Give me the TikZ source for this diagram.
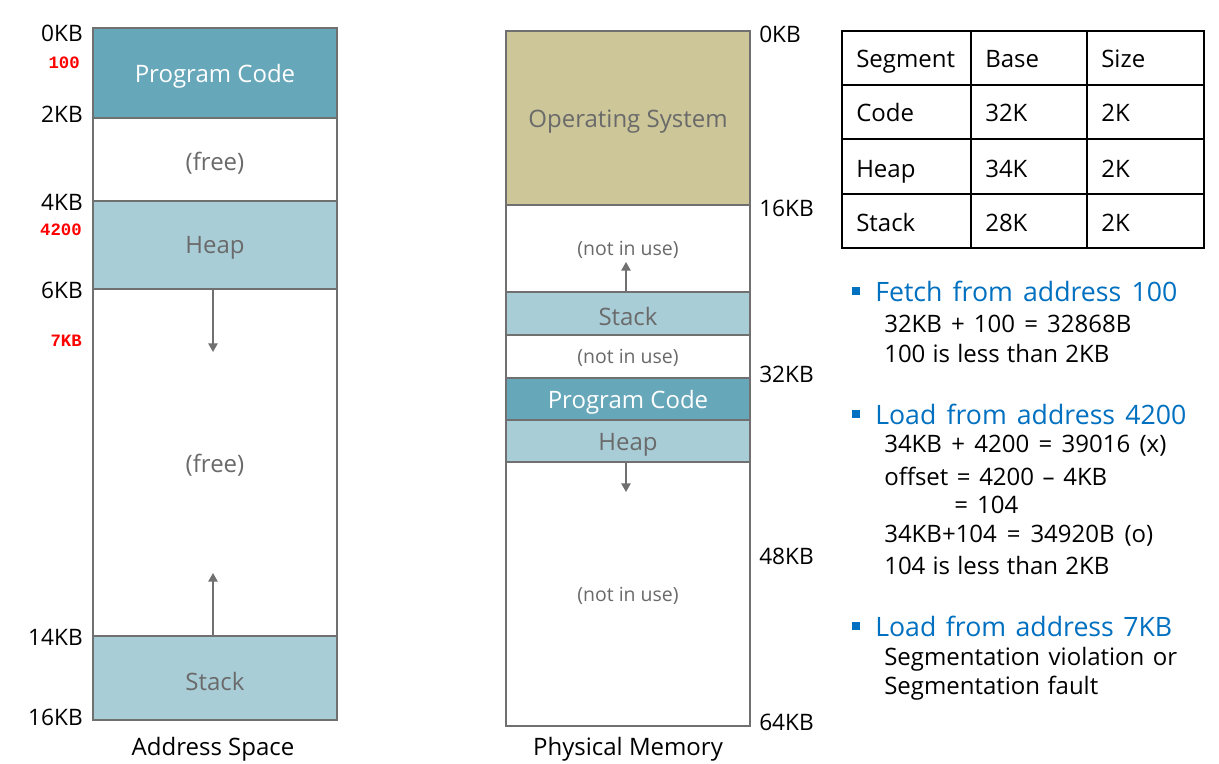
\documentclass[tikz,border=0pt]{standalone}
\usepackage{fontspec}
\setmainfont{Open Sans}
\newfontfamily\redmono{Liberation Mono}
\usetikzlibrary{arrows.meta,fit}
\definecolor{codeC}{HTML}{67A7BA}
\definecolor{lightC}{HTML}{A9CDD7}
\definecolor{osC}{HTML}{CCC699}
\definecolor{edgeC}{HTML}{707070}
\definecolor{txtC}{HTML}{6A6A6A}
\definecolor{blueC}{HTML}{0070C0}
\definecolor{redC}{HTML}{FF0000}
\newcommand{\wline}[2]{\hbox to #1pt{#2}}
\hbadness=10000 \hfuzz=20pt
\begin{document}
\begin{tikzpicture}[x=0.75pt,y=-0.75pt,
  blk/.style={draw=edgeC, line width=1.4pt, inner sep=0pt, outer sep=0pt},
  segtext/.style={text=txtC, font=\fontsize{18}{21}\selectfont},
  codetext/.style={text=white, font=\fontsize{18}{21}\selectfont},
  small/.style={text=txtC, font=\fontsize{14.6}{17}\selectfont},
  lab/.style={font=\fontsize{17}{20}\selectfont, text=black, inner sep=0pt},
  captext/.style={font=\fontsize{18}{21}\selectfont, text=black, inner sep=0pt},
  redlab/.style={font=\redmono\bfseries\fontsize{13}{15}\selectfont, text=redC, inner sep=0pt, anchor=east},
  growarrow/.style={draw=edgeC, line width=1.2pt, -{Triangle[width=7pt,length=6.5pt]}},
  cell/.style={anchor=base west, inner sep=0pt, font=\fontsize{18}{21}\selectfont},
  head/.style={anchor=west, inner sep=0pt, font=\fontsize{20}{24}\selectfont, text=blueC},
  body/.style={anchor=west, inner sep=0pt, font=\fontsize{18}{21}\selectfont},
  bul/.style={fill=blueC, minimum size=6pt, inner sep=0pt}
]
\path[use as bounding box, fill=white] (0,0) rectangle (1219,763);

% ---------- Address space ----------
\node[blk, fill=codeC, fit={(93,28) (337,118)}] (acode) {};
\node[blk, fill=white, fit={(93,118) (337,201)}] (afree1) {};
\node[blk, fill=lightC, fit={(93,201) (337,289)}] (aheap) {};
\node[blk, fill=white, fit={(93,289) (337,636)}] (afree2) {};
\node[blk, fill=lightC, fit={(93,636) (337,720)}] (astack) {};
\node[codetext] at (215,76) {Program Code};
\node[segtext] at (215,163) {(free)};
\node[segtext] at (215,248) {Heap};
\node[segtext] at (215,465) {(free)};
\node[segtext] at (215,681) {Stack};
\coordinate (aheapEnd) at (213,352);
\coordinate (astackEnd) at (213,573);
\draw[growarrow] (aheap.south -| aheapEnd) -- (aheapEnd);
\draw[growarrow] (astack.north -| astackEnd) -- (astackEnd);

\node[lab, anchor=east] at (83,33) {0KB};
\node[redlab] at (80,63) {100};
\node[lab, anchor=east] at (83,114) {2KB};
\node[lab, anchor=east] at (83,202) {4KB};
\node[redlab] at (82,230) {4200};
\node[lab, anchor=east] at (83,290) {6KB};
\node[redlab] at (82,341) {7KB};
\node[lab, anchor=east] at (83,637) {14KB};
\node[lab, anchor=east] at (83,717) {16KB};
\node[captext] at (213,749) {Address Space};

% ---------- Physical memory ----------
\node[blk, fill=osC, fit={(506,31) (750,205)}] (pos) {};
\node[blk, fill=white, fit={(506,205) (750,292)}] (pfree1) {};
\node[blk, fill=lightC, fit={(506,292) (750,335)}] (pstack) {};
\node[blk, fill=white, fit={(506,335) (750,378)}] (pfree2) {};
\node[blk, fill=codeC, fit={(506,378) (750,420)}] (pcode) {};
\node[blk, fill=lightC, fit={(506,420) (750,462)}] (pheap) {};
\node[blk, fill=white, fit={(506,462) (750,726)}] (pfree3) {};
\node[segtext] at (628,122) {Operating System};
\node[small] at (628,250) {(not in use)};
\node[segtext] at (628,316) {Stack};
\node[small] at (628,358) {(not in use)};
\node[codetext] at (628,402) {Program Code};
\node[segtext] at (628,445) {Heap};
\node[small] at (628,596) {(not in use)};
\coordinate (pstackEnd) at (626,262);
\coordinate (pheapEnd) at (626,492);
\draw[growarrow] (pstack.north -| pstackEnd) -- (pstackEnd);
\draw[growarrow] (pheap.south -| pheapEnd) -- (pheapEnd);

\node[lab, anchor=west] at (759,34) {0KB};
\node[lab, anchor=west] at (759,208) {16KB};
\node[lab, anchor=west] at (759,374) {32KB};
\node[lab, anchor=west] at (759,556) {48KB};
\node[lab, anchor=west] at (759,722) {64KB};
\node[captext] at (628,749) {Physical Memory};

% ---------- Table ----------
\draw[line width=1.4pt] (842,31) rectangle (1204,248);
\foreach \yy in {85,139,194} \draw[line width=1.4pt] (842,\yy) -- (1204,\yy);
\foreach \xx in {971,1087} \draw[line width=1.4pt] (\xx,31) -- (\xx,248);
\node[cell] (t11) at (856,68) {Segment};
\node[cell] (t12) at (985,68) {Base};
\node[cell] (t13) at (1101,68) {Size};
\node[cell] (t21) at (856,122) {Code};
\node[cell] (t22) at (985,122) {32K};
\node[cell] (t23) at (1101,122) {2K};
\node[cell] (t31) at (856,177) {Heap};
\node[cell] (t32) at (985,177) {34K};
\node[cell] (t33) at (1101,177) {2K};
\node[cell] (t41) at (856,231) {Stack};
\node[cell] (t42) at (985,231) {28K};
\node[cell] (t43) at (1101,231) {2K};

% ---------- Bullets ----------
\node[bul] (b1) at (856,291) {};
\node[head] (h1) at (875,291) {\wline{226.5}{Fetch from address 100}};
\node[body] at (884,324) {\wline{185.25}{32KB + 100 = 32868B}};
\node[body] at (884,353) {\wline{168.75}{100 is less than 2KB}};

\node[bul] (b2) at (856,414) {};
\node[head] (h2) at (875,414) {\wline{233.25}{Load from address 4200}};
\node[body] at (884,446) {\wline{211.5}{34KB + 4200 = 39016 (x)}};
\node[body] at (884,476) {\wline{167.25}{offset = 4200 -- 4KB}};
\node[body] at (954,505) {\wline{48}{= 104}};
\node[body] at (884,536) {\wline{201.75}{34KB+104 = 34920B (o)}};
\node[body] at (884,565) {\wline{168.75}{104 is less than 2KB}};

\node[bul] (b3) at (856,626) {};
\node[head] (h3) at (875,626) {\wline{222.75}{Load from address 7KB}};
\node[body] at (884,659) {\wline{219.75}{Segmentation violation or}};
\node[body] at (884,688) {\wline{160.5}{Segmentation fault}};
\end{tikzpicture}
\end{document}
